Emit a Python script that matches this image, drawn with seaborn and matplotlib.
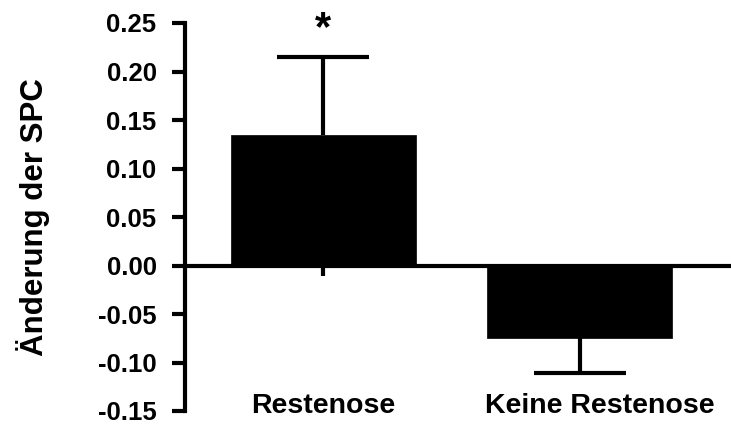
import matplotlib
matplotlib.use("Agg")
import matplotlib.pyplot as plt
import seaborn as sns
import pandas as pd
import numpy as np

categories = ["Restenose", "Keine Restenose"]
means = [0.135, -0.075]
errors = [0.080, 0.036]
significance = ["*", ""]
yticks = [-0.15, -0.10, -0.05, 0.00, 0.05, 0.10, 0.15, 0.20, 0.25]

sns.set_style("ticks")
plt.rcParams['font.family'] = ['Liberation Sans', 'DejaVu Sans']
plt.rcParams['font.weight'] = 'bold'
for key in ('text.color', 'axes.labelcolor', 'xtick.color', 'ytick.color',
            'axes.edgecolor'):
    plt.rcParams[key] = 'black'

df = pd.DataFrame({"Gruppe": categories, "SPC": means})

fig = plt.figure(figsize=(7.31, 4.26), dpi=100)
ax = fig.add_axes([185/731, 1-411/426, 1-185/731, (411-23)/426])

sns.barplot(data=df, x="Gruppe", y="SPC", color="black", width=0.72,
            errorbar=None, ax=ax, saturation=1, edgecolor="black", linewidth=0.5)

# one-sided error bars (away from zero)
low = np.array([0 if m >= 0 else e for m, e in zip(means, errors)])
high = np.array([e if m >= 0 else 0 for m, e in zip(means, errors)])
_, caplines, _ = ax.errorbar(range(len(categories)), means, yerr=[low, high],
                             fmt="none", ecolor="black", elinewidth=3,
                             capsize=33, capthick=3, zorder=3)
# drop the caps on the side facing the bar
for cap, side in zip(caplines, (low, high)):
    xd, yd = cap.get_data()
    keep = side > 0
    cap.set_data(np.asarray(xd)[keep], np.asarray(yd)[keep])

for i, (m, e, s) in enumerate(zip(means, errors, significance)):
    if s:
        ax.text(i, m + e + 0.008, s, ha="center", va="bottom",
                fontsize=30, fontweight="bold", color="black")

ax.set_ylim(-0.15, 0.25)
ax.set_xlim(-0.54, 1.59)
ax.set_yticks(yticks)
ax.set_yticklabels([f"{t:.2f}" for t in yticks])

ax.spines['bottom'].set_position(('data', 0))
ax.spines['top'].set_visible(False)
ax.spines['right'].set_visible(False)
for sp in ('left', 'bottom'):
    ax.spines[sp].set_linewidth(3)
    ax.spines[sp].set_color('black')

ax.tick_params(axis='y', length=9.5, width=3, pad=11, labelsize=18.5,
               color='black', labelcolor='black')
ax.tick_params(axis='x', length=7, width=3, labelbottom=False, color='black')

label_x = [0.0, 1.08]
for xpos, lab in zip(label_x, categories):
    ax.text(xpos, -0.1445, lab, ha="center", va="center", fontsize=20.5,
            fontweight="bold", color="black")

ax.set_xlabel("")
ax.set_ylabel("Änderung der SPC", fontsize=22.5, fontweight="bold", color="black")
ax.yaxis.set_label_coords(-0.248, 0.5)

fig.savefig("out.png", dpi=100)
